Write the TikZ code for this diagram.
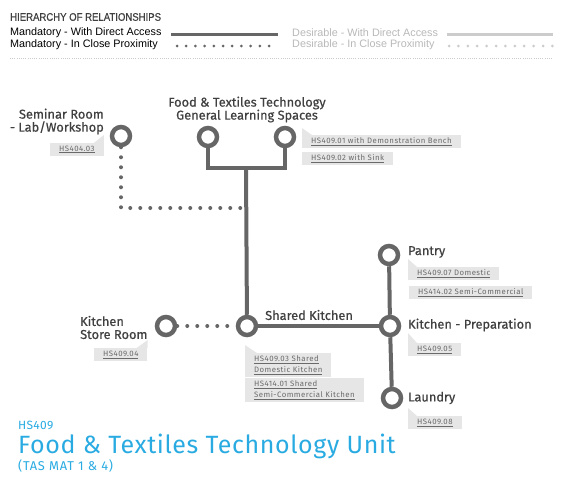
\documentclass[tikz,border=0pt]{standalone}
\usepackage{fontspec}
\setmainfont{Fira Sans}
\newfontfamily\labelfont[FakeBold=0.6]{Fira Sans}
\newfontfamily\legendfont{Liberation Sans}
\newfontfamily\headfont[FakeBold=0.5, FakeStretch=0.87]{Liberation Sans}
\newfontfamily\tagfont[LetterSpace=6]{Fira Sans}
\newfontfamily\unitfont[LetterSpace=2.5]{Fira Sans}

\definecolor{linegray}{HTML}{666666}
\definecolor{lightline}{HTML}{CCCCCC}
\definecolor{labelgray}{HTML}{404040}
\definecolor{tagfill}{HTML}{E6E6E6}
\definecolor{tagtext}{HTML}{6A6A6A}
\definecolor{unitblue}{HTML}{29ABE2}

\begin{document}
\begin{tikzpicture}[x=1pt, y=-1pt,
    room/.style={circle, draw=linegray, fill=white, line width=4.5pt, minimum size=18pt, inner sep=0pt},
    roomlabel/.style={font=\labelfont\fontsize{12.8}{13}\selectfont, text=labelgray, inner sep=0pt},
    tag/.style={fill=tagfill, font=\tagfont\fontsize{7.8}{11}\selectfont, text=tagtext, inner xsep=9pt, inner ysep=2.5pt, align=left, anchor=north west},
    direct/.style={draw=linegray, line width=4pt},
    close/.style={draw=linegray, line width=4pt, line cap=round, dash pattern=on 0pt off 10pt},
    legend/.style={font=\legendfont\fontsize{10.8}{12}\selectfont, inner sep=0pt, anchor=west},
  ]
  \useasboundingbox (0,0) rectangle (565,490);

  % legend
  \node[legend, text=labelgray, font=\headfont\fontsize{11}{12}\selectfont] (hierarchy) at (10,17) {HIERARCHY OF RELATIONSHIPS};
  \node[legend, text=black] (mdirect) at (10,33) {Mandatory - With Direct Access};
  \node[legend, text=black] (mclose) at (10,45) {Mandatory - In Close Proximity};
  \node[legend, text=lightline!90!black] (ddirect) at (292,33) {Desirable - With Direct Access};
  \node[legend, text=lightline!90!black] (dclose) at (292,45) {Desirable - In Close Proximity};
  \coordinate (md1) at (171,34);
  \coordinate (md2) at (278,34);
  \coordinate (mc1) at (177,46);
  \coordinate (mc2) at (278,46);
  \coordinate (dd1) at (447,34);
  \coordinate (dd2) at (553,34);
  \coordinate (dc1) at (449,46);
  \coordinate (dc2) at (553,46);
  \draw[linegray, line width=3pt] (md1) -- (md2);
  \draw[linegray, line width=3pt, line cap=round, dash pattern=on 0pt off 9.2pt] (mc1) -- (mc2);
  \draw[lightline, line width=3pt] (dd1) -- (dd2);
  \draw[lightline, line width=3pt, line cap=round, dash pattern=on 0pt off 9.4pt] (dc1) -- (dc2);
  \coordinate (sep1) at (10,58);
  \coordinate (sep2) at (553,58);
  \draw[lightline, line width=0.8pt, dash pattern=on 0.8pt off 1.4pt] (sep1) -- (sep2);

  % rooms
  \node[room] (seminar) at (121,136) {};
  \node[room] (gls1) at (208,137) {};
  \node[room] (gls2) at (285,137) {};
  \node[room] (shared) at (247,326) {};
  \node[room] (store) at (166,326) {};
  \node[room] (pantry) at (389,255) {};
  \node[room] (prep) at (390,326) {};
  \node[room] (laundry) at (392,398) {};
  \coordinate (fork) at (246,168);
  \coordinate (dotturn) at (246,208);

  % connectors
  \draw[direct] (gls1) |- (fork) -| (gls2);
  \draw[direct] (fork) -- (shared);
  \draw[close] (seminar) |- (dotturn);
  \draw[close] (store) -- (shared);
  \draw[direct] (shared) -- (prep);
  \draw[direct] (pantry) -- (prep);
  \draw[direct] (prep) -- (laundry);

  % room labels
  \node[roomlabel, anchor=east, align=right] (seminarlbl) at (104,121.5) {Seminar Room\\- Lab/Workshop};
  \node[roomlabel, align=center] (glslbl) at (247,109.5) {Food \& Textiles Technology\\General Learning Spaces};
  \node[roomlabel, anchor=west, align=left] (storelbl) at (80,327.5) {Kitchen\\Store Room};
  \node[roomlabel, anchor=west] (sharedlbl) at (265,315) {Shared Kitchen};
  \node[roomlabel, anchor=west] (pantrylbl) at (408,252) {Pantry};
  \node[roomlabel, anchor=west] (preplbl) at (408,325) {Kitchen - Preparation};
  \node[roomlabel, anchor=west] (laundrylbl) at (408,398) {Laundry};

  % tags
  \node[tag] (t40403) at (50,143) {\underline{HS404.03}};
  \node[tag] (t40901) at (302,135) {\underline{HS409.01 with Demonstration Bench}};
  \node[tag] (t40902) at (302,152) {\underline{HS409.02 with Sink}};
  \node[tag] (t40904) at (94,348) {\underline{HS409.04}};
  \node[tag] (t40903) at (245,353) {\underline{HS409.03 Shared}\\\underline{Domestic Kitchen}};
  \node[tag] (t41401) at (245,378) {\underline{HS414.01 Shared}\\\underline{Semi-Commercial Kitchen}};
  \node[tag] (t40907) at (408,267) {\underline{HS409.07 Domestic}};
  \node[tag] (t41402) at (409,286) {\underline{HS414.02 Semi-Commercial}};
  \node[tag] (t40905) at (408,343) {\underline{HS409.05}};
  \node[tag] (t40908) at (408,416) {\underline{HS409.08}};
  \fill[tagfill] (t40403.north east) -- ++(0,-8) -- ++(-10,8) -- cycle;
  \fill[tagfill] (t40904.north east) -- ++(0,-8) -- ++(-11,8) -- cycle;
  \fill[tagfill] (t40901.north west) -- ++(0,-7) -- ++(10,7) -- cycle;
  \fill[tagfill] (t40903.north west) -- ++(0,-8) -- ++(12,8) -- cycle;
  \fill[tagfill] (t40907.north west) -- ++(0,-8) -- ++(9,8) -- cycle;
  \fill[tagfill] (t40905.north west) -- ++(0,-10) -- ++(9,10) -- cycle;
  \fill[tagfill] (t40908.north west) -- ++(0,-8) -- ++(9,8) -- cycle;

  % unit title
  \node[anchor=west, inner sep=0pt, text=unitblue, font=\unitfont\fontsize{12}{13}\selectfont] (code) at (18,425) {HS409};
  \node[anchor=west, inner sep=0pt, text=unitblue, font=\unitfont\fontsize{25}{28}\selectfont] (unit) at (18,446) {Food \& Textiles Technology Unit};
  \node[anchor=west, inner sep=0pt, text=unitblue, font=\tagfont\fontsize{12.8}{13}\selectfont] (tas) at (18,466) {(TAS MAT 1 \& 4)};
\end{tikzpicture}
\end{document}
